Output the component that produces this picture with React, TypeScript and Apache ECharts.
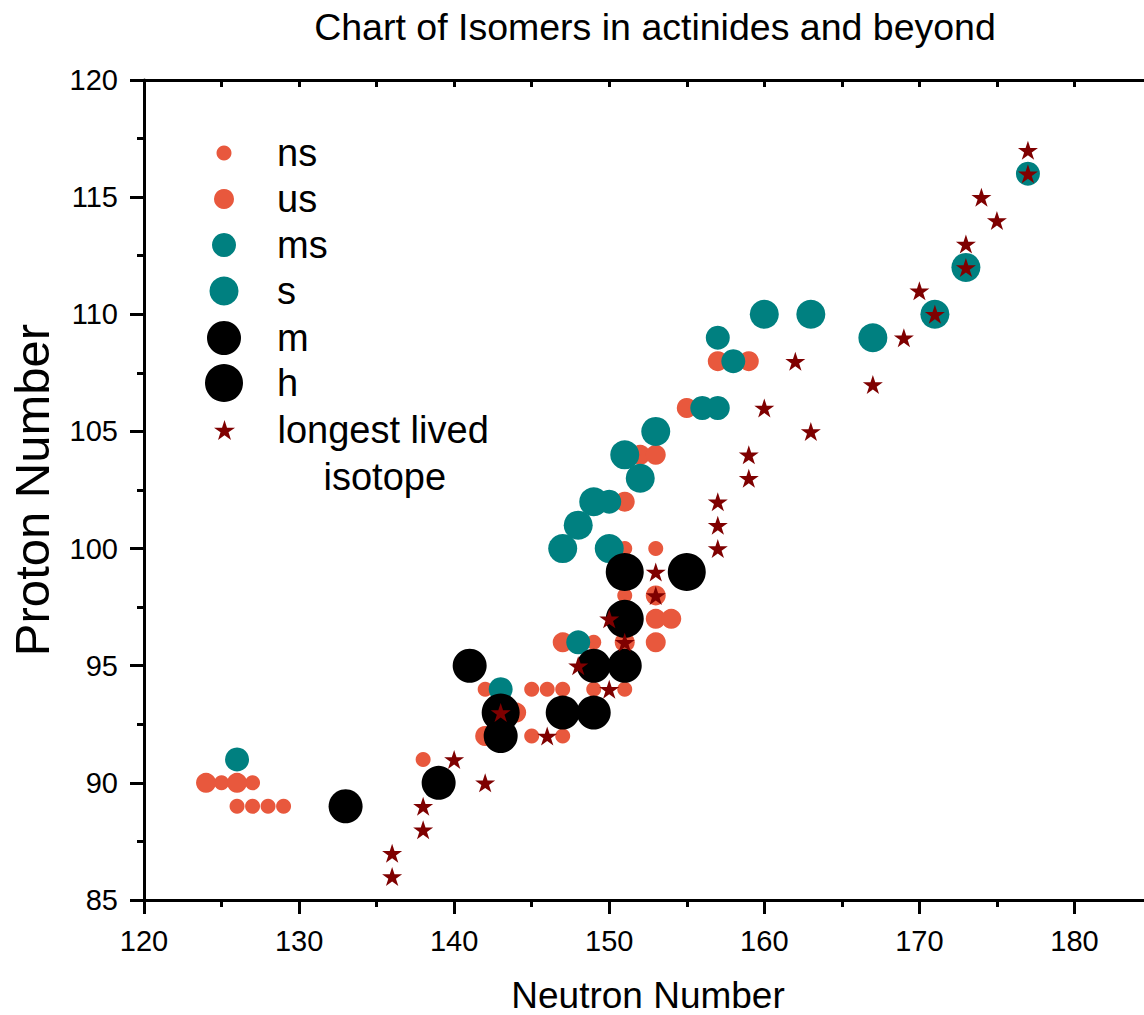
import React, { useEffect, useRef } from "react";
import * as echarts from "echarts";

const FONT = "'Liberation Sans', Arial, Helvetica, sans-serif";

const nsData: number[][] = [
  [125, 90], [127, 90], [126, 89], [127, 89], [128, 89], [129, 89],
  [138, 91], [142, 94], [145, 94], [146, 94], [147, 94], [149, 94], [151, 94],
  [145, 92], [147, 92], [149, 96], [151, 98], [151, 100], [153, 100],
];
const usData: number[][] = [
  [124, 90], [126, 90], [142, 92], [144, 93], [147, 96], [151, 96], [153, 96],
  [153, 97], [154, 97], [153, 98], [151, 102], [152, 104], [153, 104],
  [155, 106], [157, 108], [159, 108],
];
const msData: number[][] = [
  [126, 91], [143, 94], [148, 96], [150, 102], [157, 109], [158, 108],
  [156, 106], [157, 106], [177, 116],
];
const sData: number[][] = [
  [147, 100], [148, 101], [149, 102], [150, 100], [151, 104], [152, 103],
  [153, 105], [160, 110], [163, 110], [167, 109], [171, 110], [173, 112],
];
const mData: number[][] = [
  [133, 89], [139, 90], [141, 95], [143, 92], [147, 93], [149, 93], [149, 95], [151, 95],
];
const hData: number[][] = [
  [143, 93], [151, 97], [151, 99], [155, 99],
];
const longestData: number[][] = [
  [136, 86], [136, 87], [138, 88], [138, 89], [140, 91], [142, 90], [143, 93],
  [146, 92], [148, 95], [150, 94], [151, 96], [150, 97], [153, 98], [153, 99],
  [157, 100], [157, 101], [157, 102], [159, 103], [159, 104], [163, 105],
  [160, 106], [167, 107], [162, 108], [169, 109], [171, 110], [170, 111],
  [173, 112], [173, 113], [175, 114], [174, 115], [177, 116], [177, 117],
];

const STAR =
  "path://M0,-50 L11.23,-15.45 L47.55,-15.45 L18.17,5.9 L29.39,40.45 L0,19.1 L-29.39,40.45 L-18.17,5.9 L-47.55,-15.45 L-11.23,-15.45 Z";

const ORANGE = "#E8583D";
const TEAL = "#008080";
const BLACK = "#000000";
const MAROON = "#7F0000";

const seriesDefs = [
  { name: "ns", data: nsData, symbol: "circle", size: 15, color: ORANGE, legendY: 153 },
  { name: "us", data: usData, symbol: "circle", size: 20, color: ORANGE, legendY: 199 },
  { name: "ms", data: msData, symbol: "circle", size: 24, color: TEAL, legendY: 245 },
  { name: "s", data: sData, symbol: "circle", size: 29, color: TEAL, legendY: 291 },
  { name: "m", data: mData, symbol: "circle", size: 34, color: BLACK, legendY: 338 },
  { name: "h", data: hData, symbol: "circle", size: 38, color: BLACK, legendY: 383 },
  { name: "longest lived isotope", data: longestData, symbol: STAR, size: 20, color: MAROON, legendY: 430 },
];

const xMajorTicks = { min: 120, max: 185, interval: 10 };
const xMinorTicks = { min: 120, max: 185, interval: 5 };
const yTicks = { min: 85, max: 120, interval: 5 };

export default function App() {
  const ref = useRef<HTMLDivElement>(null);

  useEffect(() => {
    if (!ref.current) return;
    const chart = echarts.init(ref.current, null, { renderer: "svg" });

    const axisLine = { show: true, onZero: false, lineStyle: { color: "#000", width: 3 } };
    const LEG_CX = 224;

    const legends = seriesDefs.map((d, i) => {
      const isStar = i === seriesDefs.length - 1;
      const base = {
        data: [d.name],
        orient: "vertical",
        left: LEG_CX - d.size / 2,
        padding: 0,
        itemWidth: 96,
        itemHeight: d.size,
        selectedMode: false,
      };
      if (isStar) {
        return {
          ...base,
          top: d.legendY - 70.5,
          formatter: () => "longest lived\n{i|isotope}",
          textStyle: {
            color: "#000",
            fontSize: 38,
            fontFamily: FONT,
            lineHeight: 47,
            padding: [47, 0, 0, 0],
            rich: { i: { color: "#000", fontSize: 38, fontFamily: FONT, lineHeight: 47, padding: [0, 0, 0, 46] } },
          },
        };
      }
      return {
        ...base,
        top: d.legendY - 20,
        textStyle: { color: "#000", fontSize: 38, fontFamily: FONT, lineHeight: 40 },
      };
    });

    chart.setOption({
      animation: false,
      backgroundColor: "#fff",
      title: {
        text: "Chart of Isomers in actinides and beyond",
        left: 655,
        top: 8,
        padding: 0,
        textAlign: "center",
        textStyle: { color: "#000", fontSize: 37.5, fontWeight: "normal", fontFamily: FONT },
      },
      legend: legends,
      grid: { left: 144, top: 80, width: 1008, height: 820, containLabel: false, outerBoundsMode: "none" },
      xAxis: [
        {
          type: "value",
          position: "bottom",
          ...xMajorTicks,
          axisLine,
          axisTick: { show: true, inside: false, length: 14, lineStyle: { color: "#000", width: 3 } },
          axisLabel: {
            color: "#000",
            fontSize: 29,
            fontFamily: FONT,
            margin: 26,
            showMaxLabel: false,
            formatter: (v: number) => (v % 10 === 0 && v <= 180 ? String(v) : ""),
          },
          splitLine: { show: false },
          name: "Neutron Number",
          nameLocation: "middle",
          nameGap: 76,
          nameTextStyle: { color: "#000", fontSize: 37, fontFamily: FONT, lineHeight: 38 },
        },
        {
          type: "value",
          position: "bottom",
          ...xMinorTicks,
          axisLine: { show: false },
          axisTick: { show: true, inside: false, length: 7, lineStyle: { color: "#000", width: 3 } },
          axisLabel: { show: false },
          splitLine: { show: false },
        },
        {
          type: "value",
          position: "top",
          ...xMinorTicks,
          axisLine,
          axisTick: { show: true, inside: true, length: 7, lineStyle: { color: "#000", width: 3 } },
          axisLabel: { show: false },
          splitLine: { show: false },
        },
      ],
      yAxis: [
        {
          type: "value",
          position: "left",
          ...yTicks,
          axisLine,
          axisTick: { show: true, inside: false, length: 14, lineStyle: { color: "#000", width: 3 } },
          minorTick: { show: true, splitNumber: 2, length: 7, lineStyle: { color: "#000", width: 3 } },
          axisLabel: { color: "#000", fontSize: 29, fontFamily: FONT, margin: 26 },
          splitLine: { show: false },
          minorSplitLine: { show: false },
          name: "Proton Number",
          nameLocation: "middle",
          nameGap: 88,
          nameTextStyle: { color: "#000", fontSize: 49, fontFamily: FONT },
        },
        {
          type: "value",
          position: "right",
          ...yTicks,
          axisLine,
          axisTick: { show: true, inside: true, length: 7, lineStyle: { color: "#000", width: 3 } },
          axisLabel: { show: false },
          splitLine: { show: false },
        },
      ],
      series: seriesDefs.map((d, i) => ({
        name: d.name,
        type: "scatter",
        xAxisIndex: 0,
        yAxisIndex: 0,
        data: d.data,
        symbol: d.symbol,
        symbolSize: d.size,
        symbolKeepAspect: true,
        itemStyle: { color: d.color, opacity: 1 },
        emphasis: { disabled: true },
        z: 2 + i,
      })),
    });

    return () => chart.dispose();
  }, []);

  return (
    <div style={{ position: "absolute", left: 0, top: 0, width: 1144, height: 1015, overflow: "hidden" }}>
      <div ref={ref} style={{ width: 1144, height: 1015 }} />
    </div>
  );
}
